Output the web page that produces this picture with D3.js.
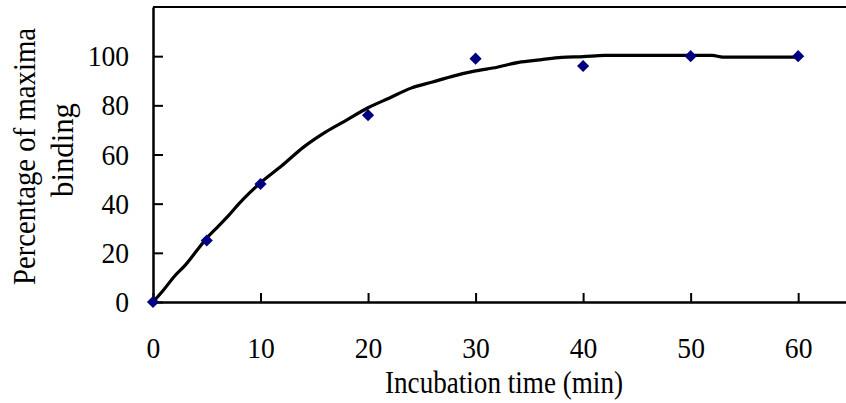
<!DOCTYPE html>
<html>
<head>
<meta charset="utf-8">
<script src="https://cdn.jsdelivr.net/npm/d3@7"></script>
<style>
  body { margin: 0; background: #fff; }
  text { font-family: "Liberation Serif", "Times New Roman", serif; fill: #000; }
</style>
</head>
<body>
<div id="chart"></div>
<script>
// measured points
var times = [0, 5, 10, 20, 30, 40, 50, 60];
var binding = [0, 25, 48, 76, 99, 96, 100, 100];

// fitted curve
var fitTimes = [0, 1, 2, 3, 4, 5, 6, 7, 8, 9, 10, 12, 14, 16, 18, 20, 22, 24, 26, 28, 30, 32, 34, 36, 38, 40, 42, 45, 50, 52, 53, 55, 60];
var fitValues = [0, 5, 10.5, 15, 20.5, 26, 30.5, 35, 40, 44.5, 48.5, 55.5, 63, 69, 74, 79, 83, 87, 89.5, 92, 94, 95.5, 97.5, 98.5, 99.5, 99.8, 100.3, 100.3, 100.3, 100.3, 99.6, 99.6, 99.6];

var xTicks = [0, 10, 20, 30, 40, 50, 60];
var yTicks = [0, 20, 40, 60, 80, 100];

var W = 846, H = 403;
var margin = {top: 7, left: 153},
    plotW = 700,
    plotH = 302 - margin.top;

var svg = d3.select("#chart")
  .append("svg")
    .attr("width", W)
    .attr("height", H);

var g = svg.append("g")
    .attr("transform", "translate(" + margin.left + "," + margin.top + ")");

var x = d3.scaleLinear().domain([0, 65.1]).range([0, plotW]);
var y = d3.scaleLinear().domain([0, 120]).range([plotH, 0]);

// top border of plot area
g.append("line")
  .attr("x1", x(0)).attr("x2", plotW)
  .attr("y1", y(120)).attr("y2", y(120))
  .attr("stroke", "#000")
  .attr("stroke-width", 2);

// X axis
var xAxis = g.append("g")
  .attr("transform", "translate(0," + plotH + ")")
  .call(d3.axisBottom(x).tickValues(xTicks).tickSizeInner(-9).tickSizeOuter(0).tickPadding(35));

// Y axis
var yAxis = g.append("g")
  .call(d3.axisLeft(y).tickValues(yTicks).tickSizeInner(-10).tickSizeOuter(0).tickPadding(26));

[xAxis, yAxis].forEach(function(a) {
  a.select(".domain").attr("stroke", "#000").attr("stroke-width", 2.5);
  a.selectAll(".tick line").attr("stroke", "#000").attr("stroke-width", 2);
  a.selectAll(".tick text")
    .style("font-family", "'Liberation Serif', 'Times New Roman', serif")
    .style("font-size", "30px")
    .attr("transform", "scale(0.92,1)")
    .attr("fill", "#000");
});

// fitted line
var fit = fitTimes.map(function(t, i) { return {t: t, v: fitValues[i]}; });
g.append("path")
  .datum(fit)
  .attr("fill", "none")
  .attr("stroke", "#000")
  .attr("stroke-width", 3.2)
  .attr("stroke-linejoin", "round")
  .attr("d", d3.line()
    .x(function(d) { return x(d.t); })
    .y(function(d) { return y(d.v); })
    .curve(d3.curveMonotoneX));

// diamonds
var pts = times.map(function(t, i) { return {t: t, v: binding[i]}; });
g.selectAll(".pt")
  .data(pts)
  .enter()
  .append("rect")
    .attr("class", "pt")
    .attr("x", -4.3).attr("y", -4.3)
    .attr("width", 8.6).attr("height", 8.6)
    .attr("fill", "#000080")
    .attr("transform", function(d) { return "translate(" + x(d.t) + "," + y(d.v) + ")rotate(45)"; });

// axis titles
svg.append("text")
  .attr("x", 385)
  .attr("y", 393)
  .attr("textLength", 238)
  .attr("lengthAdjust", "spacingAndGlyphs")
  .style("font-size", "31px")
  .text("Incubation time (min)");

svg.append("clipPath")
  .attr("id", "ytitle-clip")
  .append("rect")
  .attr("x", 0).attr("y", 28).attr("width", 100).attr("height", 300);

var yTitle = svg.append("g").attr("clip-path", "url(#ytitle-clip)");
yTitle.append("text")
  .attr("transform", "translate(35,285)rotate(-90)")
  .attr("textLength", 265)
  .attr("lengthAdjust", "spacingAndGlyphs")
  .style("font-size", "32px")
  .text("Percentage of maximal");
yTitle.append("text")
  .attr("transform", "translate(73,197)rotate(-90)")
  .attr("textLength", 94)
  .attr("lengthAdjust", "spacingAndGlyphs")
  .style("font-size", "32px")
  .text("binding");
</script>
</body>
</html>
